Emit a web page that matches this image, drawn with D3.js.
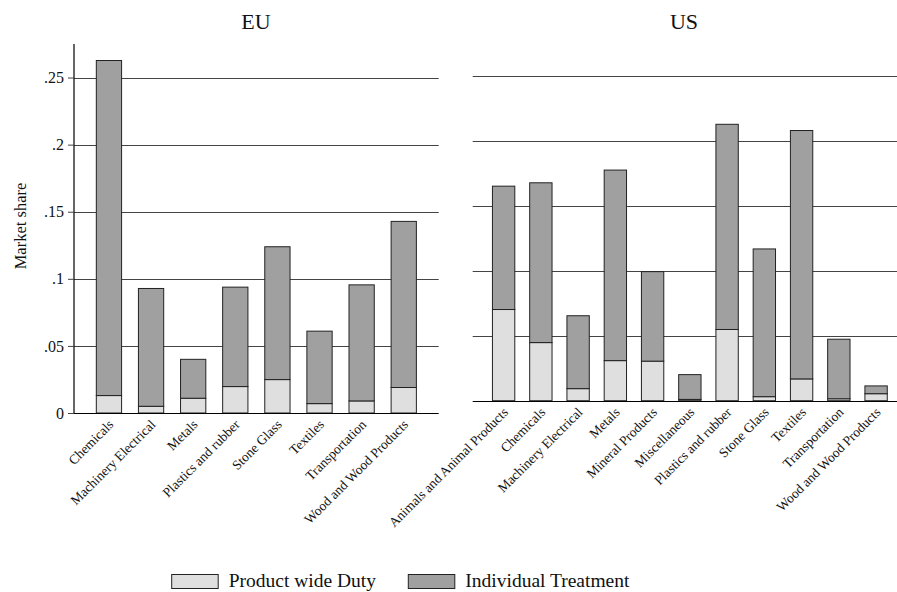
<!DOCTYPE html>
<html><head><meta charset="utf-8">
<script src="https://cdn.jsdelivr.net/npm/d3@7"></script>
<style>
html,body{margin:0;padding:0;background:#fff;}
svg{display:block;}
svg text{font-family:"Liberation Serif","Times New Roman",serif;}
</style></head>
<body><svg id="c" width="897" height="592"></svg>
<script>
// ---- data ----
const seriesNames = ["Product wide Duty", "Individual Treatment"];
const euCategories = ["Chemicals","Machinery Electrical","Metals","Plastics and rubber","Stone Glass","Textiles","Transportation","Wood and Wood Products"];
const euProductWide = [0.013, 0.005, 0.011, 0.0197, 0.0249, 0.007, 0.009, 0.019];
const euIndividual  = [0.2497, 0.0878, 0.029, 0.0741, 0.099, 0.054, 0.0865, 0.1238];
const usCategories = ["Animals and Animal Products","Chemicals","Machinery Electrical","Metals","Mineral Products","Miscellaneous","Plastics and rubber","Stone Glass","Textiles","Transportation","Wood and Wood Products"];
const usProductWide = [0.0703, 0.0448, 0.0093, 0.0309, 0.0305, 0.001, 0.0549, 0.0031, 0.0168, 0.0015, 0.0054];
const usIndividual  = [0.0951, 0.1232, 0.0562, 0.1469, 0.069, 0.0191, 0.1582, 0.1139, 0.1915, 0.0459, 0.006];
const yTickValues = [0, 0.05, 0.1, 0.15, 0.2, 0.25];
const yTickLabels = ["0", ".05", ".1", ".15", ".2", ".25"];
const panelTitles = ["EU", "US"];
const yAxisTitle = "Market share";

// ---- style ----
const fills = ["#dfdfdf", "#a0a0a0"];
const strokeCol = "#222";
const gridCol = "#444";

const svg = d3.select("#c");

function panel(opts) {
  const {cats, pw, it, x0, x1, xEnd, yBase, yTop, showAxis, title, titleX} = opts;
  const g = svg.append("g");
  const x = d3.scaleBand().domain(cats).range([x0, x1]).paddingInner(0.4).paddingOuter(0.53);
  const y = d3.scaleLinear().domain([0, 0.275]).range([yBase, yTop]);
  const rows = cats.map((c, i) => ({cat: c, pw: pw[i], it: it[i]}));
  const stack = d3.stack().keys(["pw", "it"])(rows);

  // gridlines
  g.append("g").selectAll("line").data(yTickValues.filter(v => v > 0)).join("line")
    .attr("x1", x0).attr("x2", xEnd)
    .attr("y1", d => Math.round(y(d)) + 0.5).attr("y2", d => Math.round(y(d)) + 0.5)
    .attr("stroke", gridCol).attr("stroke-width", 1);

  // bars
  g.append("g").selectAll("g").data(stack).join("g")
    .attr("fill", (d, i) => fills[i])
    .selectAll("rect").data(d => d).join("rect")
    .attr("x", d => x(d.data.cat))
    .attr("width", x.bandwidth())
    .attr("y", d => y(d[1]))
    .attr("height", d => Math.max(0, y(d[0]) - y(d[1])))
    .attr("stroke", strokeCol).attr("stroke-width", 1);

  // x axis line
  g.append("line").attr("x1", x0).attr("x2", xEnd)
    .attr("y1", Math.round(yBase) + 0.5).attr("y2", Math.round(yBase) + 0.5)
    .attr("stroke", "#000").attr("stroke-width", 1.2);

  // x labels
  g.append("g").selectAll("text").data(cats).join("text")
    .attr("transform", d => `translate(${x(d) + x.bandwidth() / 2 + 2},${yBase + 9}) rotate(-45)`)
    .attr("text-anchor", "end").attr("dy", "0.35em")
    .attr("font-size", "13.5px").attr("fill", "#111")
    .text(d => d);

  if (showAxis) {
    const ax = d3.axisLeft(y).tickValues(yTickValues)
      .tickFormat((d, i) => yTickLabels[i]).tickSize(6).tickPadding(4);
    const ag = g.append("g").attr("transform", `translate(${x0},0)`).call(ax);
    ag.attr("font-family", null).attr("font-size", null);
    ag.select(".domain").attr("stroke", "#000").attr("stroke-width", 1.2)
      .attr("d", `M0,${yTop}V${yBase}`);
    ag.selectAll(".tick line").attr("stroke", gridCol);
    ag.selectAll(".tick text").attr("font-size", "16px").attr("fill", "#111");
  }

  svg.append("text").attr("x", titleX).attr("y", 29).attr("text-anchor", "middle")
    .attr("font-size", "22px").attr("fill", "#111").text(title);
}

panel({cats: euCategories, pw: euProductWide, it: euIndividual, x0: 74, x1: 438.7, xEnd: 438.7,
  yBase: 413, yTop: 44, showAxis: true, title: panelTitles[0], titleX: 256});
panel({cats: usCategories, pw: usProductWide, it: usIndividual, x0: 472.7, x1: 907, xEnd: 910,
  yBase: 400.7, yTop: 44, showAxis: false, title: panelTitles[1], titleX: 684});

// y axis title
svg.append("text").attr("transform", "translate(26,226) rotate(-90)")
  .attr("text-anchor", "middle").attr("font-size", "16.5px").attr("fill", "#111").text(yAxisTitle);

// legend
const legX = [171.7, 408.3];
const lg = svg.append("g");
seriesNames.forEach((n, i) => {
  lg.append("rect").attr("x", legX[i]).attr("y", 574.5).attr("width", 46.5).attr("height", 14)
    .attr("fill", fills[i]).attr("stroke", strokeCol).attr("stroke-width", 1);
  lg.append("text").attr("x", legX[i] + 57).attr("y", 587).attr("font-size", "19.5px")
    .attr("fill", "#111").text(n);
});
</script></body></html>
